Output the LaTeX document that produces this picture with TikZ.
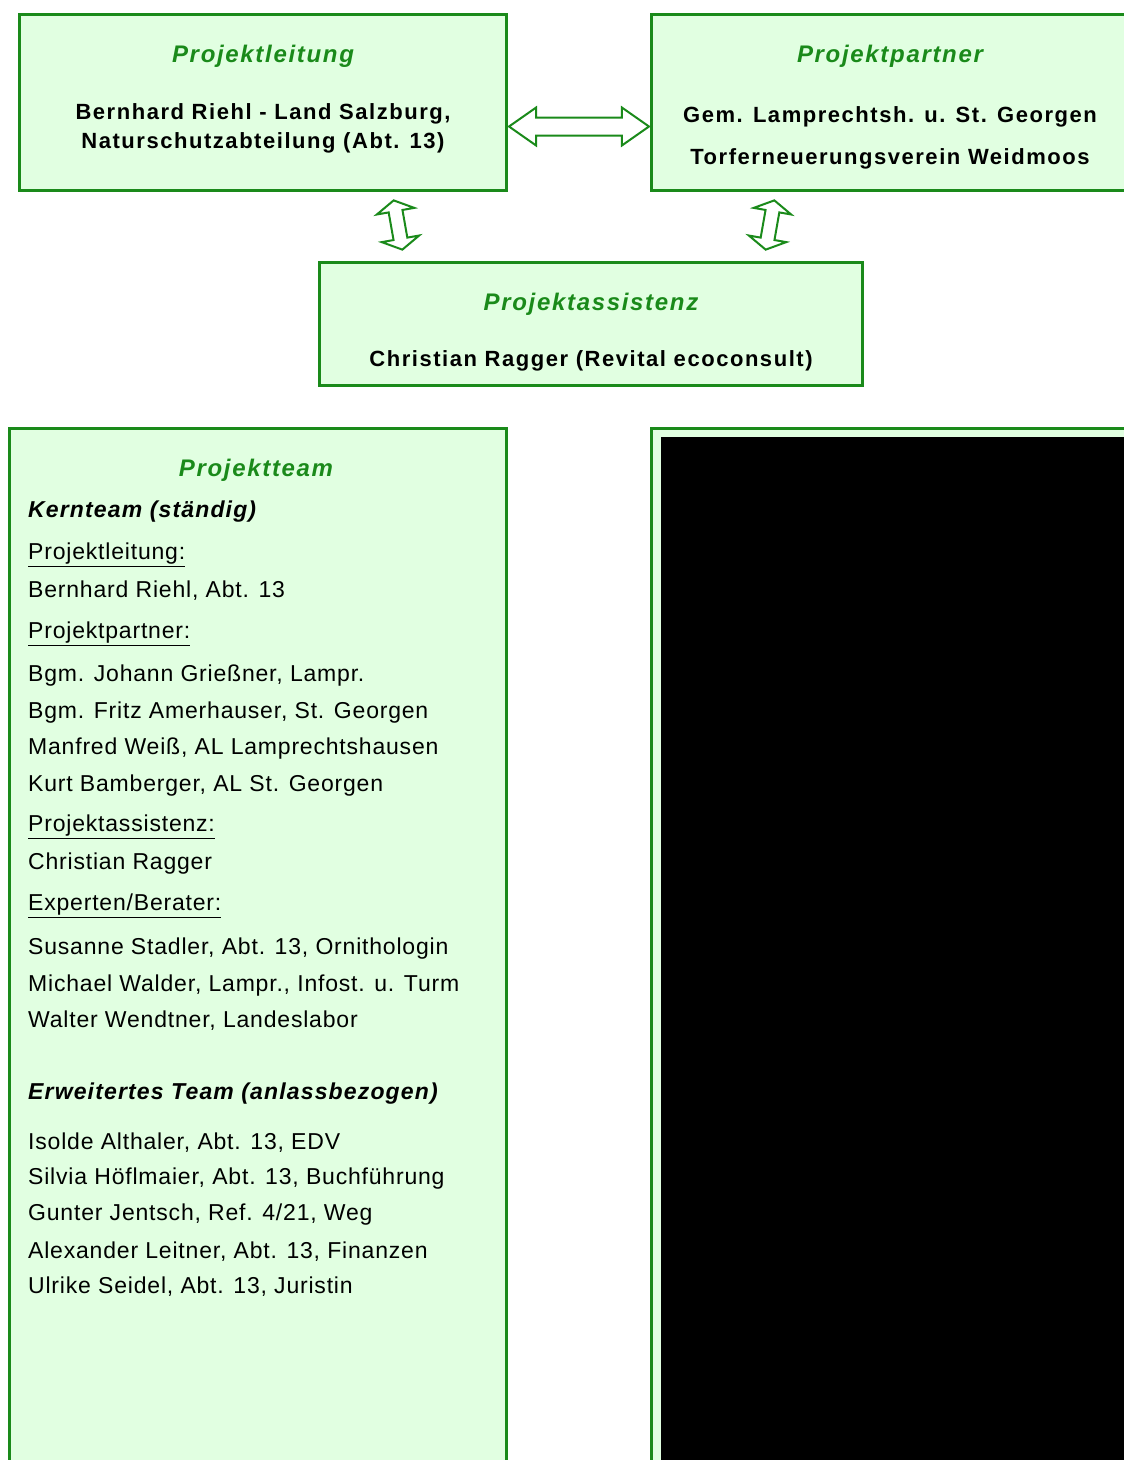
\documentclass[tikz,border=0pt]{standalone}
\usepackage{fontspec}
\setmainfont{Liberation Sans}
\usetikzlibrary{shapes.arrows,calc}
\definecolor{OrgGreen}{HTML}{1A8A1A}
\definecolor{OrgFill}{HTML}{E1FFE1}

\tikzset{
  orgbox/.style={draw=OrgGreen, fill=OrgFill, line width=3.5pt, inner sep=0pt},
  headtxt/.style={text=OrgGreen, inner sep=0pt,
    font=\fontsize{24}{28}\selectfont\bfseries\itshape\addfontfeatures{LetterSpace=7}},
  nametxt/.style={inner sep=0pt, align=center,
    font=\fontsize{22}{29}\selectfont\bfseries\addfontfeatures{LetterSpace=7}},
  teamtxt/.style={anchor=west, inner sep=0pt,
    font=\fontsize{23}{27}\selectfont\addfontfeatures{LetterSpace=3.5}},
  linkarrow/.style={double arrow, draw=OrgGreen, fill=white,
    line width=2pt}
}

\begin{document}
\begin{tikzpicture}[x=1pt, y=-1pt]
  \useasboundingbox (0,0) rectangle (1124,1460);

  % top row
  \node[orgbox, minimum width=487pt, minimum height=176pt] (leitung) at (263,102.5) {};
  \node[orgbox, minimum width=483pt, minimum height=176pt] (partner) at (893,102.5) {};
  \node[orgbox, minimum width=543pt, minimum height=123pt] (assist) at (591,324) {};

  \node[headtxt] (leitung-head) at (263,56) {Projektleitung};
  \node[nametxt] (leitung-txt) at (263,128) {Bernhard Riehl - Land Salzburg,\\Naturschutzabteilung (Abt. 13)};
  \node[headtxt] (partner-head) at (890,56) {Projektpartner};
  \node[nametxt, text depth=0pt] (partner-txt) at (890,136) {Gem. Lamprechtsh. u. St. Georgen\\[13pt]Torferneuerungsverein Weidmoos};
  \node[headtxt] (assist-head) at (591,304) {Projektassistenz};
  \node[nametxt] (assist-txt) at (591,361) {Christian Ragger (Revital ecoconsult)};

  % links
  \node[linkarrow, inner sep=8pt, minimum height=140pt,
        double arrow head extend=10pt, double arrow tip angle=70]
    (link-lp) at ($(leitung.east)!0.5!(partner.west)+(0,24)$) {};
  \node[linkarrow, inner sep=6pt, minimum height=50pt, rotate=100,
        double arrow head extend=12pt, double arrow tip angle=120]
    (link-la) at (398,225) {};
  \node[linkarrow, inner sep=6pt, minimum height=50pt, rotate=80,
        double arrow head extend=12pt, double arrow tip angle=120]
    (link-pa) at (770,225) {};

  % lower boxes
  \node[orgbox, minimum width=497pt, minimum height=1060pt] (team) at (258,958.5) {};
  \node[orgbox, minimum width=484pt, minimum height=1060pt] (fotobox) at (893.5,958.5) {};
  \node[fill=black, inner sep=0pt, anchor=north west,
        minimum width=480pt, minimum height=1040pt] (foto) at (661,437) {};

  \node[headtxt] (team-head) at (256,470) {Projektteam};
  \foreach \yy/\txt in {
      512/{\bfseries\itshape\addfontfeatures{LetterSpace=5} Kernteam (ständig)},
      555/{\underline{Projektleitung:}},
      591/{Bernhard Riehl, Abt. 13},
      634/{\underline{Projektpartner:}},
      676/{Bgm. Johann Grießner, Lampr.},
      713/{Bgm. Fritz Amerhauser, St. Georgen},
      749/{Manfred Weiß, AL Lamprechtshausen},
      786/{Kurt Bamberger, AL St. Georgen},
      827/{\underline{Projektassistenz:}},
      864/{Christian Ragger},
      906/{\underline{Experten/Berater:}},
      949/{Susanne Stadler, Abt. 13, Ornithologin},
      986/{Michael Walder, Lampr., Infost. u. Turm},
      1021/{Walter Wendtner, Landeslabor},
      1094/{\bfseries\itshape\addfontfeatures{LetterSpace=5} Erweitertes Team (anlassbezogen)},
      1143/{Isolde Althaler, Abt. 13, EDV},
      1179/{Silvia Höflmaier, Abt. 13, Buchführung},
      1215/{Gunter Jentsch, Ref. 4/21, Weg},
      1252/{Alexander Leitner, Abt. 13, Finanzen},
      1287/{Ulrike Seidel, Abt. 13, Juristin}}
    \node[teamtxt] (team-\yy) at (28,\yy) {\txt};
\end{tikzpicture}
\end{document}
